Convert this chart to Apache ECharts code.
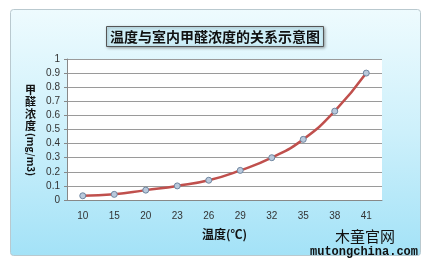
<!DOCTYPE html>
<html>
<head>
<meta charset="utf-8">
<script src="https://cdn.jsdelivr.net/npm/echarts@6/dist/echarts.min.js"></script>
<style>
html, body { margin: 0; padding: 0; background: #fff; }
#chart { width: 430px; height: 264px; }
</style>
</head>
<body>
<div id="chart"></div>
<script>
// 温度 (℃) 类目
var temps = ['10', '15', '20', '23', '26', '29', '32', '35', '38', '41'];
// 甲醛浓度 (mg/m3)
var hcho = [0.03, 0.04, 0.07, 0.10, 0.14, 0.21, 0.30, 0.43, 0.63, 0.90];
var yTicks = ['0', '0.1', '0.2', '0.3', '0.4', '0.5', '0.6', '0.7', '0.8', '0.9', '1'];

var cjk = '"Noto Sans CJK SC", sans-serif';
var myChart = echarts.init(document.getElementById('chart'));
var option = {
    animation: false,
    backgroundColor: '#fff',
    title: {
        text: '温度与室内甲醛浓度的关系示意图',
        left: 'center',
        top: 26,
        padding: [4, 4, 3, 4],
        backgroundColor: '#cdeef7',
        borderColor: '#555',
        borderWidth: 1,
        shadowBlur: 3,
        shadowOffsetX: 1,
        shadowOffsetY: 1,
        shadowColor: 'rgba(0,0,0,0.35)',
        textStyle: {
            fontFamily: cjk,
            fontSize: 14,
            fontWeight: 'bold',
            color: '#111'
        }
    },
    graphic: [
        {
            type: 'rect',
            z: -10,
            shape: { x: 10.5, y: 9.5, width: 410, height: 246, r: 3 },
            style: {
                fill: new echarts.graphic.LinearGradient(0, 0, 0, 1, [
                    { offset: 0, color: '#eefbfe' },
                    { offset: 0.5, color: '#cdf0fb' },
                    { offset: 1, color: '#a3e2f7' }
                ]),
                stroke: '#b9c9cf',
                lineWidth: 1
            }
        },
        {
            type: 'text',
            left: 25,
            top: 84,
            style: {
                text: '甲\n醛\n浓\n度',
                font: 'bold 11px "Noto Sans CJK SC", sans-serif',
                fill: '#111',
                lineHeight: 12
            }
        },
        {
            type: 'text',
            x: 36,
            y: 133,
            rotation: -Math.PI / 2,
            style: {
                text: '(mg/m3)',
                font: 'bold 10px "Noto Sans CJK SC", sans-serif',
                fill: '#111'
            }
        },
        {
            type: 'text',
            left: 335,
            top: 229,
            style: {
                text: '木童官网',
                font: '15px "Noto Sans CJK SC", serif',
                fill: '#111'
            }
        },
        {
            type: 'text',
            left: 310,
            top: 246,
            style: {
                text: 'mutongchina.com',
                font: 'bold 12px "Liberation Mono", monospace',
                fill: '#111'
            }
        }
    ],
    grid: {
        left: 67,
        right: 48,
        top: 59,
        bottom: 64,
        show: true,
        backgroundColor: '#fff',
        borderWidth: 0
    },
    xAxis: {
        type: 'category',
        data: temps,
        boundaryGap: true,
        name: '温度(℃)',
        nameLocation: 'middle',
        nameGap: 28,
        nameTextStyle: {
            fontFamily: cjk,
            fontSize: 12,
            fontWeight: 'bold',
            color: '#111'
        },
        axisLine: { lineStyle: { color: '#888', width: 1 } },
        axisTick: { show: false },
        axisLabel: {
            margin: 11,
            fontFamily: 'Liberation Sans, sans-serif',
            fontSize: 10,
            color: '#333'
        }
    },
    yAxis: {
        type: 'value',
        min: 0,
        max: 1,
        interval: 0.1,
        axisLine: { show: true, lineStyle: { color: '#888', width: 1 } },
        axisTick: { show: true, length: 3, lineStyle: { color: '#888' } },
        splitLine: { lineStyle: { color: '#9a9a9a', width: 1 } },
        axisLabel: {
            margin: 7,
            fontFamily: 'Liberation Sans, sans-serif',
            fontSize: 10,
            color: '#333',
            formatter: function (v) {
                return yTicks[Math.round(v * 10)];
            }
        }
    },
    series: [{
        type: 'line',
        data: hcho,
        smooth: true,
        symbol: 'circle',
        symbolSize: 6,
        lineStyle: { color: '#c0504d', width: 2.5 },
        itemStyle: { color: '#b9c9dc', borderColor: '#6f86a0', borderWidth: 1 }
    }]
};
myChart.setOption(option);
</script>
</body>
</html>
